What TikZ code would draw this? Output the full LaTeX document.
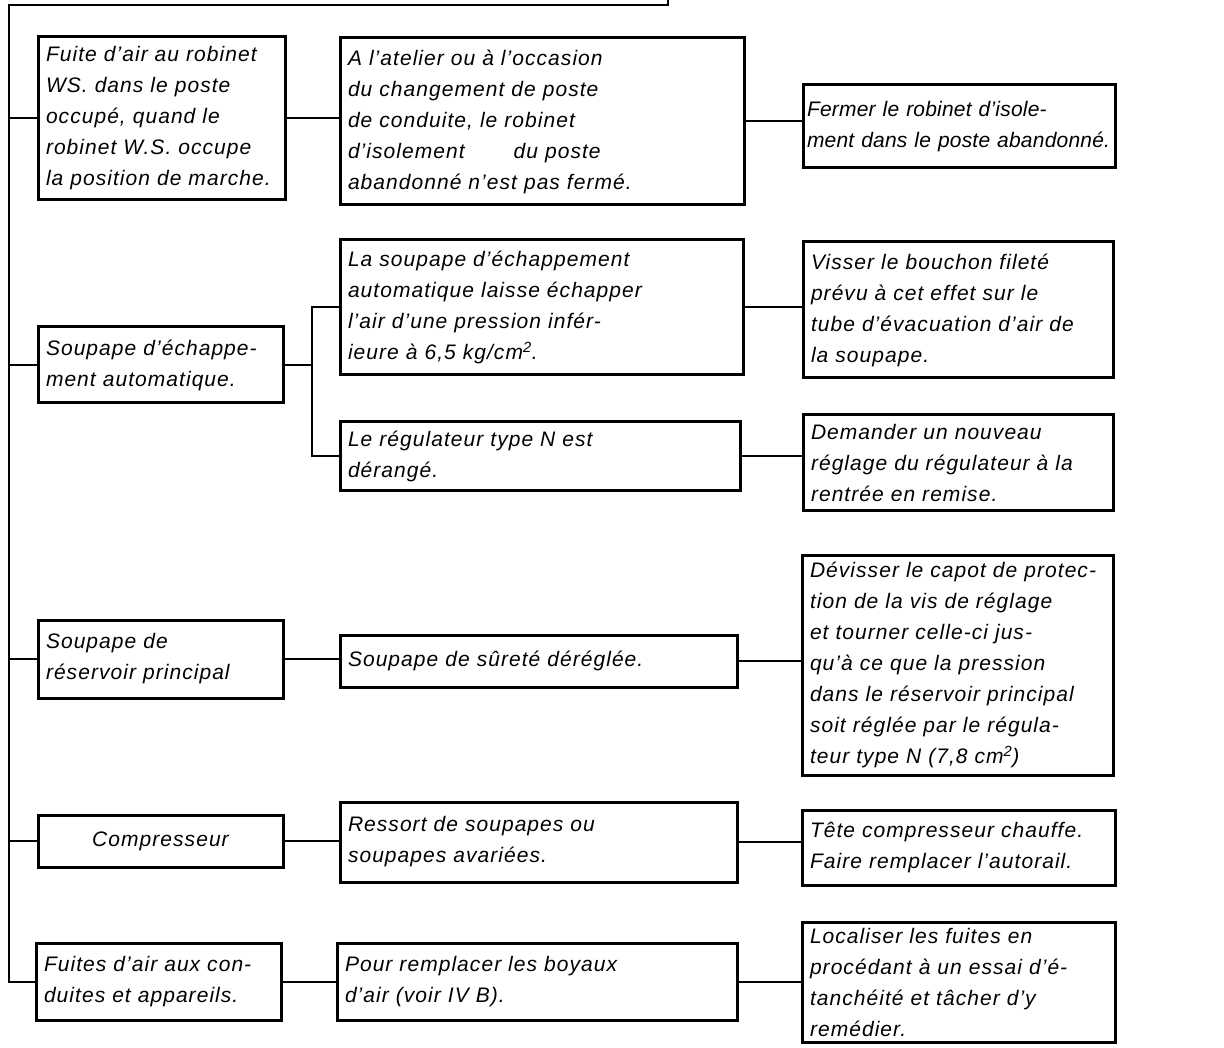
\documentclass[tikz,border=0pt]{standalone}
\usepackage{fontspec}
\setmainfont{Liberation Sans}
\newfontfamily\letterfont[LetterSpace=5,Ligatures=TeX]{Liberation Sans}
\newfontfamily\tightfont[LetterSpace=1,Ligatures=TeX]{Liberation Sans}
\begin{document}
\begin{tikzpicture}[x=1pt, y=-1pt,
    box/.style={draw, line width=3pt, align=left, inner xsep=8pt, inner ysep=5pt,
      font=\letterfont\fontsize{21}{31}\selectfont\itshape},
    link/.style={line width=2pt}]
  \useasboundingbox (0,0) rectangle (1224,1048);
  \coordinate (up) at (668,0);
  \coordinate (top) at (9,5);
  \coordinate (fork) at (312,367);
  % first column
  \node[box, text width=231pt, minimum height=163pt] (a1) at (161.5,118.5)
    {Fuite d'air au robinet\\ WS. dans le poste\\ occupé, quand le\\ robinet W.S. occupe\\ la position de marche.};
  \node[box, text width=229pt, minimum height=76pt] (b1) at (160.5,365)
    {Soupape d'échappe-\\ ment automatique.};
  \node[box, text width=229pt, minimum height=78pt] (c1) at (160.5,659)
    {Soupape de\\ réservoir principal};
  \node[box, align=center, text width=229pt, minimum height=52pt] (d1) at (160.5,841)
    {Compresseur};
  \node[box, text width=229pt, minimum height=77pt] (e1) at (158.5,981.5)
    {Fuites d'air aux con-\\ duites et appareils.};
  % second column
  \node[box, text width=388pt, minimum height=167pt] (a2) at (542,121.5)
    {A l'atelier ou à l'occasion\\ du changement de poste\\ de conduite, le robinet\\ d'isolement\hspace{2em} du poste\\ abandonné n'est pas fermé.};
  \node[box, text width=387pt, minimum height=135pt] (b2) at (541.5,307.5)
    {La soupape d'échappement\\ automatique laisse échapper\\ l'air d'une pression infér-\\ ieure à 6,5 kg/cm\textsuperscript{2}.};
  \node[box, text width=384pt, minimum height=68pt] (b4) at (540,456)
    {Le régulateur type N est\\ dérangé.};
  \node[box, text width=381pt, minimum height=52pt] (c2) at (538.5,661)
    {Soupape de sûreté déréglée.};
  \node[box, text width=381pt, minimum height=80pt] (d2) at (538.5,842)
    {Ressort de soupapes ou\\ soupapes avariées.};
  \node[box, text width=384pt, minimum height=77pt] (e2) at (537,981.5)
    {Pour remplacer les boyaux\\ d'air (voir IV B).};
  % third column
  \node[box, inner xsep=4pt, text width=304pt, minimum height=83pt,
    font=\tightfont\fontsize{21}{31}\selectfont\itshape] (a3) at (959,126.5)
    {Fermer le robinet d'isole-\\ ment dans le poste abandonné.};
  \node[box, text width=294pt, minimum height=136pt] (b3) at (958,310)
    {Visser le bouchon fileté\\ prévu à cet effet sur le\\ tube d'évacuation d'air de\\ la soupape.};
  \node[box, text width=294pt, minimum height=95pt] (b5) at (958,462.5)
    {Demander un nouveau\\ réglage du régulateur à la\\ rentrée en remise.};
  \node[box, text width=295pt, minimum height=220pt] (c3) at (957.5,665)
    {Dévisser le capot de protec-\\ tion de la vis de réglage\\ et tourner celle-ci jus-\\ qu'à ce que la pression\\ dans le réservoir principal\\ soit réglée par le régula-\\ teur type N (7,8 cm\textsuperscript{2})};
  \node[box, text width=297pt, minimum height=75pt] (d3) at (958.5,847.5)
    {Tête compresseur chauffe.\\ Faire remplacer l'autorail.};
  \node[box, text width=297pt, minimum height=120pt] (e3) at (958.5,982)
    {Localiser les fuites en\\ procédant à un essai d'é-\\ tanchéité et tâcher d'y\\ remédier.};
  % connectors
  \draw[link] (up) |- (top) |- (e1.west);
  \draw[link] (top |- a1.west) -- (a1.west);
  \draw[link] (top |- b1.west) -- (b1.west);
  \draw[link] (top |- c1.west) -- (c1.west);
  \draw[link] (top |- d1.west) -- (d1.west);
  \draw[link] (a1.east) -- (a1.east -| a2.west);
  \draw[link] (a2.east) -- (a2.east -| a3.west);
  \draw[link] (b1.east) -- (b1.east -| fork);
  \draw[link] (b2.west) -- (b2.west -| fork) -- (b4.west -| fork) -- (b4.west);
  \draw[link] (b2.east) -- (b2.east -| b3.west);
  \draw[link] (b4.east) -- (b4.east -| b5.west);
  \draw[link] (c1.east) -- (c1.east -| c2.west);
  \draw[link] (c2.east) -- (c2.east -| c3.west);
  \draw[link] (d1.east) -- (d1.east -| d2.west);
  \draw[link] (d2.east) -- (d2.east -| d3.west);
  \draw[link] (e1.east) -- (e1.east -| e2.west);
  \draw[link] (e2.east) -- (e2.east -| e3.west);
\end{tikzpicture}
\end{document}
